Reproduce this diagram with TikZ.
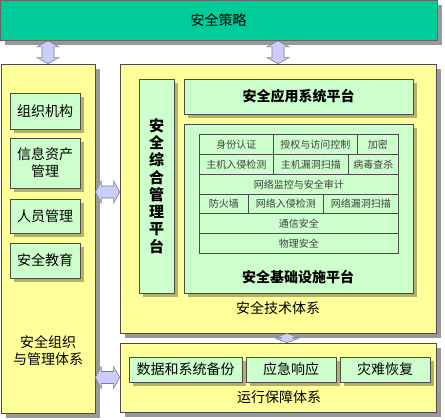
\documentclass[tikz,border=0pt]{standalone}
\usepackage{fontspec}
\setmainfont{Noto Sans CJK SC}
\usetikzlibrary{shadows,calc}
\definecolor{teal1}{HTML}{00CC99}
\definecolor{ylw}{HTML}{FFFF99}
\definecolor{grn}{HTML}{CCFFCC}
\definecolor{lav}{HTML}{CCCCFF}
\tikzset{
 base/.style={draw=black!70, line width=0.7pt, inner sep=0pt, align=center},
 outerbox/.style={base, fill=ylw, drop shadow={shadow xshift=5pt, shadow yshift=-5pt, fill=black, opacity=0.4}},
 gbox/.style={base, fill=grn, drop shadow={shadow xshift=4pt, shadow yshift=-4pt, fill=black, opacity=0.3}},
 cell/.style={draw=black!70, line width=0.6pt, anchor=north west, inner sep=0pt, minimum height=20pt, font=\fontsize{10}{12}\selectfont, text=black!75},
 big/.style={font=\fontsize{14}{17}\selectfont},
 bigb/.style={font=\bfseries\fontsize{14}{17}\selectfont},
 fat/.style={fill=lav, draw=black!50, line width=0.6pt},
}
\newcommand\fatarr[3]{%
 \draw[fat] let \p1=(#1), \p2=(#2), \n1={atan2(\y2-\y1,\x2-\x1)}, \n2={veclen(\x2-\x1,\y2-\y1)} in
 [shift={(\p1)}, rotate=\n1] (0pt,0pt) -- (#3pt,11pt) -- (#3pt,6pt) -- ({(\n2-#3)*1pt},6pt) -- ({(\n2-#3)*1pt},11pt) -- ({\n2*1pt},0pt) -- ({(\n2-#3)*1pt},-11pt) -- ({(\n2-#3)*1pt},-6pt) -- (#3pt,-6pt) -- (#3pt,-11pt) -- cycle;}
\begin{document}
\begin{tikzpicture}[x=1pt,y=-1pt]
\useasboundingbox[fill=white] (0,0) rectangle (445,420);
% top
\node[base, fill=teal1, draw=black!60, minimum width=437pt, minimum height=40pt, big, drop shadow={shadow xshift=5pt, shadow yshift=-5pt, fill=black, opacity=0.4}] (top) at (218.5,20.5) {安全策略};
% left column
\node[outerbox, minimum width=94pt, minimum height=349pt] (left) at (48,238.5) {};
\node[gbox, big, minimum width=70pt, minimum height=36pt] (org) at (45,111) {组织机构};
\node[gbox, big, minimum width=70pt, minimum height=50pt] (asset) at (45,163) {信息资产\\管理};
\node[gbox, big, minimum width=70pt, minimum height=34pt] (staff) at (45,216) {人员管理};
\node[gbox, big, minimum width=70pt, minimum height=35pt] (edu) at (45,260.5) {安全教育};
\node[big, align=center] (leftlbl) at (48,351) {安全组织\\与管理体系};
% tech
\node[outerbox, minimum width=316pt, minimum height=269pt] (tech) at (278,198.5) {};
\node[gbox, minimum width=35pt, minimum height=214pt, font=\bfseries\fontsize{15}{17.3}\selectfont] (mgmt) at (156.5,186) {安\\全\\综\\合\\管\\理\\平\\台};
\node[gbox, bigb, minimum width=229pt, minimum height=35pt] (app) at (298.5,96.5) {安全应用系统平台};
\node[gbox, minimum width=229pt, minimum height=169pt] (infra) at (298.5,208.5) {};
% table
\node[cell, minimum width=74pt] (c11) at (199,134) {身份认证};
\node[cell, minimum width=84pt] (c12) at (273,134) {授权与访问控制};
\node[cell, minimum width=41pt] (c13) at (357,134) {加密};
\node[cell, minimum width=74pt] (c21) at (199,154) {主机入侵检测};
\node[cell, minimum width=75pt] (c22) at (273,154) {主机漏洞扫描};
\node[cell, minimum width=50pt] (c23) at (348,154) {病毒查杀};
\node[cell, minimum width=199pt] (c31) at (199,174) {网络监控与安全审计};
\node[cell, minimum width=49pt, minimum height=19pt] (c41) at (199,194) {防火墙};
\node[cell, minimum width=75pt, minimum height=19pt] (c42) at (248,194) {网络入侵检测};
\node[cell, minimum width=75pt, minimum height=19pt] (c43) at (323,194) {网络漏洞扫描};
\node[cell, minimum width=199pt] (c51) at (199,213) {通信安全};
\node[cell, minimum width=199pt] (c61) at (199,233) {物理安全};
\node[bigb] (infralbl) at (298,277) {安全基础设施平台};
\node[big] (techlbl) at (278,308) {安全技术体系};
% ops
\node[outerbox, minimum width=316pt, minimum height=69pt] (ops) at (278,377.5) {};
\node[gbox, big, minimum width=113pt, minimum height=25pt] (o1) at (185.5,369.5) {数据和系统备份};
\node[gbox, big, minimum width=90pt, minimum height=25pt] (o2) at (291,369.5) {应急响应};
\node[gbox, big, minimum width=90pt, minimum height=25pt] (o3) at (385,369.5) {灾难恢复};
\node[big] (opslbl) at (279,397) {运行保障体系};
% arrows
\coordinate (hA) at (0,192);
\coordinate (vB) at (287,0);
\fatarr{top.south -| left.north}{left.north}{6}
\fatarr{top.south -| tech.north}{tech.north}{6}
\fatarr{left.east |- hA}{tech.west |- hA}{6}
\fatarr{left.east |- ops.west}{ops.west}{6}
\fatarr{tech.south -| vB}{ops.north -| vB}{4}
\end{tikzpicture}
\end{document}
